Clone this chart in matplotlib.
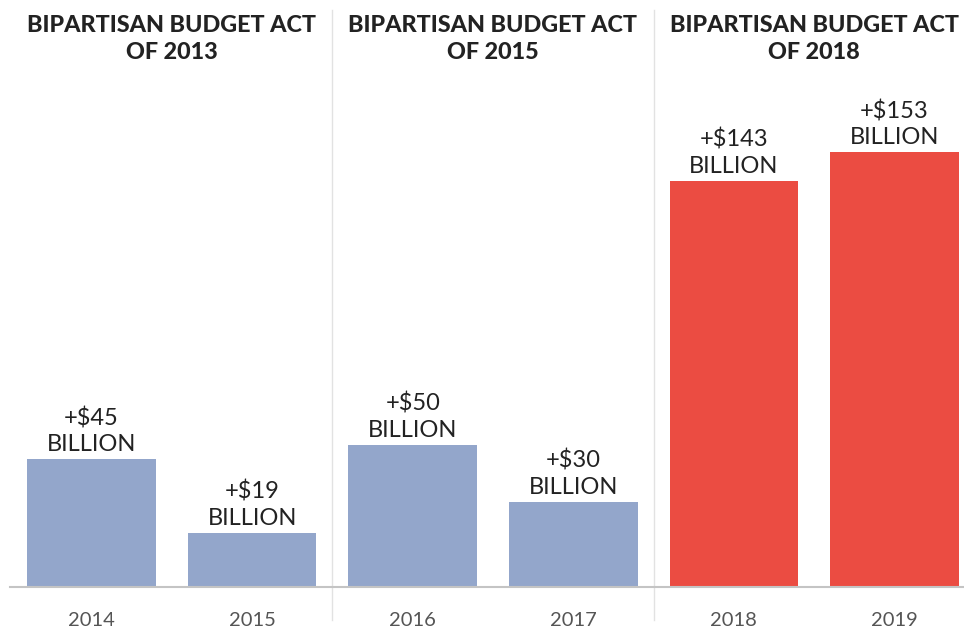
import matplotlib.pyplot as plt

# Budget cap increases by act
years = ['2014', '2015', '2016', '2017', '2018', '2019']
increase = [45, 19, 50, 30, 143, 153]
acts = ['BIPARTISAN BUDGET ACT\nOF 2013', 'BIPARTISAN BUDGET ACT\nOF 2015', 'BIPARTISAN BUDGET ACT\nOF 2018']
bar_colors = ['#93a6cb', '#93a6cb', '#93a6cb', '#93a6cb', '#eb4c42', '#eb4c42']

W, H = 964, 629
px_x = 160.6   # pixels per bar slot
px_y = 2.84    # pixels per billion
base = 587     # baseline pixel row from top

fig = plt.figure(figsize=(W / 100, H / 100), dpi=100)
ax = fig.add_axes([0, 0, 1, 1])
x0 = -91.5 / px_x
ax.set_xlim(x0, x0 + W / px_x)
ax.set_ylim(-(H - base) / px_y, base / px_y)
ax.axis('off')

xs = range(len(years))
ax.bar(xs, increase, width=0.8, color=bar_colors, zorder=2)

# baseline and panel separators
ax.plot([x0 + 10 / px_x, x0 + W / px_x], [0, 0], color='#c4c4c4', lw=1.5, zorder=3)
for sx in [1.5, 3.5]:
    ax.plot([sx, sx], [-(620 - base) / px_y, (base - 10) / px_y], color='#e2e2e2', lw=1, zorder=1)

for x, v, y in zip(xs, increase, years):
    ax.text(x, v + 4 / px_y, f'+${v}\nBILLION', ha='center', va='bottom', fontsize=17,
            family='Lato', color='#222222', linespacing=1.3)
    ax.text(x, -(620 - base) / px_y, y, ha='center', va='center', fontsize=14.5,
            family='Lato', color='#555555')

for i, t in enumerate(acts):
    ax.text(2 * i + 0.5, (base - 39) / px_y, t, ha='center', va='center', fontsize=16.8,
            family='Lato', weight='black', color='#222222', linespacing=1.35)

fig.savefig('out.png', dpi=100)
